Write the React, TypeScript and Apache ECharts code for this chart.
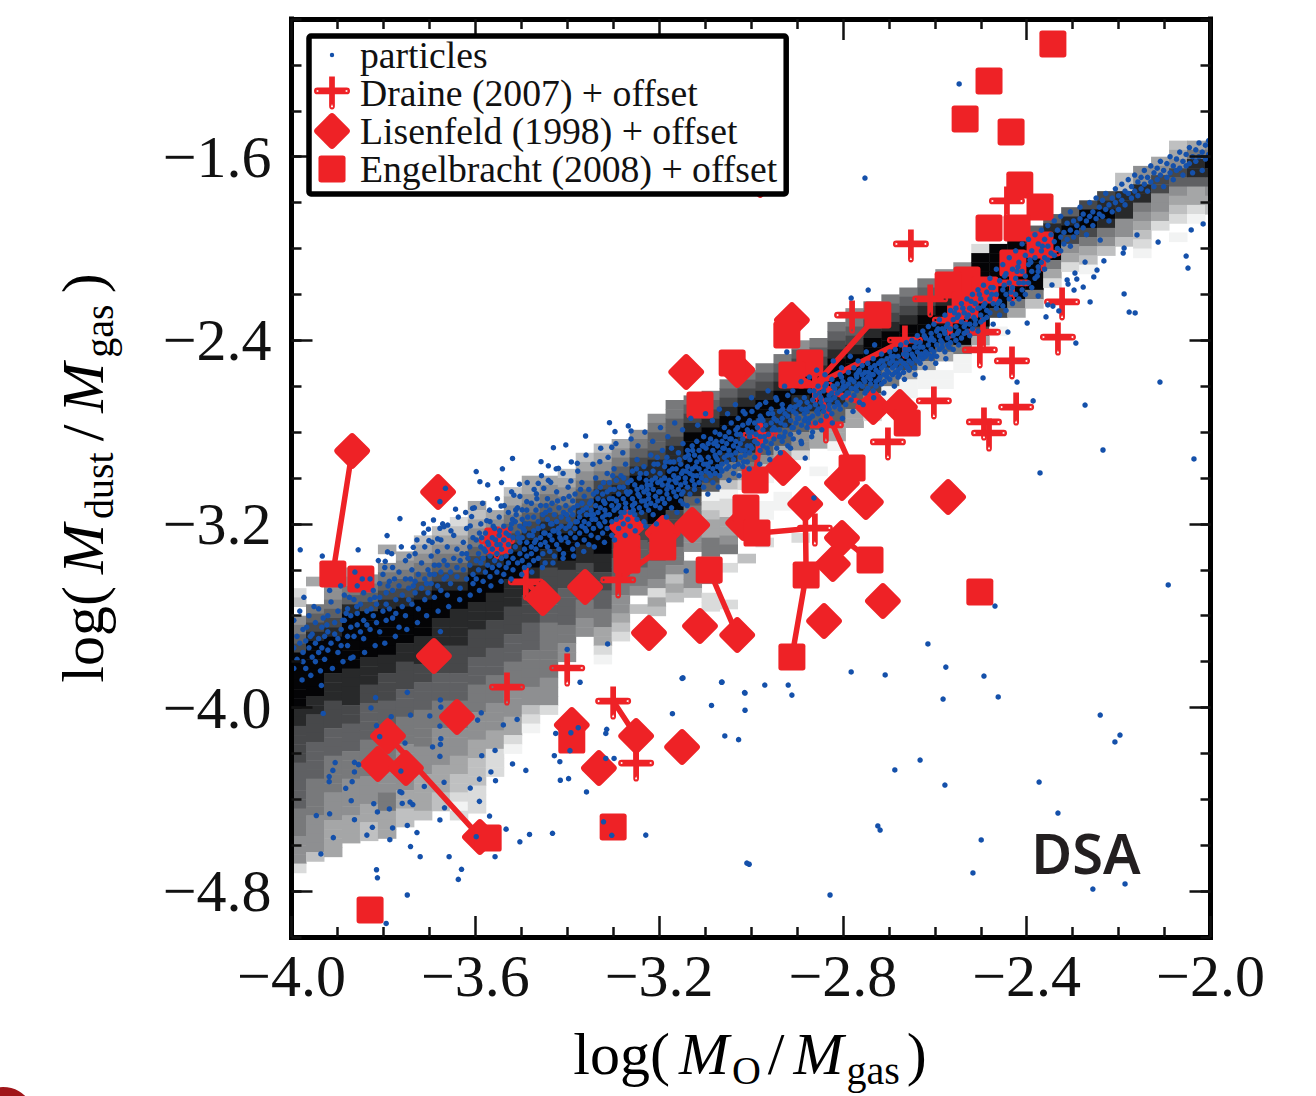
import React, { useEffect, useRef } from "react";
import * as echarts from "echarts";

const xTickLabels = [-4.0, -3.6, -3.2, -2.8, -2.4, -2.0];
const yTickLabels = [-4.8, -4.0, -3.2, -2.4, -1.6];
const legendNames = ["particles", "Draine (2007) + offset", "Lisenfeld (1998) + offset", "Engelbracht (2008) + offset"];

// 2D histogram: y of the top edge of each column, and darkness digits from top to bottom ("." = empty bin)
const heatTops = [-3.48,-3.43,-3.37,-3.39,-3.42,-3.29,-3.32,-3.25,-3.21,-3.17,-3.10,-3.14,-3.04,-2.99,-2.99,-2.96,-2.89,-2.85,-2.83,-2.79,-2.72,-2.66,-2.64,-2.62,-2.57,-2.53,-2.50,-2.46,-2.40,-2.39,-2.32,-2.26,-2.23,-2.20,-2.17,-2.13,-2.09,-2.06,-1.98,-1.98,-1.94,-1.90,-1.85,-1.82,-1.79,-1.75,-1.67,-1.64,-1.60,-1.53,-1.53,-1.53];
const heatCols = [
  "12.4567999999887777666665554441",
  "3..5678999999887776666555544442",
  "33445678999988877766655554443333",
  "345689999998888776665554444333",
  "45679999988877666655554443322",
  "3.456789999988777666555544455333",
  "345678999988777666555444443322",
  "2345678999988877666555544433332",
  "2345678999888777666555444433322",
  "123456789988887776665554443322101",
  "3234567899988877766655544433222111",
  "34567899988877766655544433111",
  "23456789998887776665554443310",
  "3345678999888777666555544210",
  "34567899887776665555554441",
  "234567899987766665544",
  "23456789998877665544",
  "234578999999887766553310",
  "3456789998877665544321",
  "456789999877666554.2",
  "4566788999997766554132",
  "5566788999997766554232",
  "56789999998655444.4442",
  "567899999760123355444.11",
  "5678999985520113345.1...1",
  "5678999886531.11....2",
  "5678998866420..00..1",
  "5678998866330..00",
  "4678998866441........1",
  "567899986633..0",
  "56789998866330",
  "4567899986633",
  "5678999997431",
  "567899985500",
  "567899997300",
  "567899996300",
  "4678999963.00",
  "467899999500",
  "19999999973",
  "99999997.0",
  "999999953",
  "689999952",
  "68999531",
  "6897431",
  "79975320",
  "7898542",
  "22888442",
  "4488543210",
  "34774431",
  "234764321.0",
  "358863310",
  "45986432",
];
const heatGrays = ["#f2f3f3","#dadbdb","#bfc0c1","#a5a6a7","#8e8f91","#78797b","#5f6063","#47484a","#28292a","#040406"];
const heatX0 = -4.0076;
const heatDx = 0.03913;
const heatDy = 0.04;

const engelbracht = [[-2.343,-1.109],[-2.482,-1.27],[-2.534,-1.436],[-2.434,-1.492],[-2.415,-1.723],[-2.371,-1.819],[-2.482,-1.911],[-2.421,-1.911],[-2.43,-2.063],[-2.371,-1.985],[-2.53,-2.137],[-2.571,-2.159],[-2.534,-2.246],[-2.491,-2.181],[-2.724,-2.29],[-2.872,-2.499],[-2.911,-2.551],[-2.922,-2.377],[-3.041,-2.499],[-3.111,-2.682],[-2.66,-2.76],[-2.78,-2.956],[-2.991,-3.009],[-3.011,-3.131],[-2.987,-3.24],[-3.091,-3.401],[-2.741,-3.357],[-2.88,-3.423],[-2.911,-3.78],[-2.502,-3.497],[-3.91,-3.418],[-3.849,-3.44],[-3.551,-3.274],[-3.27,-3.305],[-3.27,-3.357],[-3.192,-3.301],[-3.39,-4.142],[-3.3,-4.521],[-3.572,-4.569],[-3.829,-4.882]];
const lisenfeld = [[-3.868,-2.882],[-3.681,-3.061],[-3.69,-3.776],[-3.141,-2.538],[-2.911,-2.312],[-3.03,-2.529],[-3.27,-3.213],[-3.192,-3.24],[-3.128,-3.205],[-3.453,-3.523],[-3.361,-3.475],[-3.222,-3.675],[-3.111,-3.645],[-3.03,-3.684],[-3.017,-3.196],[-2.882,-3.113],[-2.713,-3.536],[-2.841,-3.623],[-2.802,-3.261],[-2.822,-3.375],[-2.571,-3.083],[-2.75,-3.105],[-2.802,-3.022],[-2.93,-2.956],[-2.734,-2.691],[-2.676,-2.691],[-3.64,-4.041],[-3.79,-4.124],[-3.812,-4.246],[-3.751,-4.264],[-3.59,-4.564],[-3.39,-4.076],[-3.25,-4.124],[-3.15,-4.172],[-3.331,-4.264],[-2.98,-1.702]];
const draine = [[-2.652,-1.98],[-2.323,-2.233],[-2.332,-2.386],[-2.432,-2.49],[-2.423,-2.691],[-2.493,-2.756],[-2.482,-2.804],[-2.602,-2.664],[-2.702,-2.843],[-2.443,-1.793],[-2.432,-2.15],[-2.61,-2.22],[-2.78,-2.29],[-2.567,-2.312],[-2.665,-2.399],[-2.502,-2.442],[-2.495,-2.364],[-2.364,-2.02],[-2.861,-3.218],[-3.49,-3.453],[-3.289,-3.444],[-3.4,-3.828],[-3.531,-3.911],[-3.3,-3.972],[-3.25,-4.242],[-3.553,-3.274],[-2.837,-2.769],[-2.98,-2.813],[-2.861,-2.595]];
const linkPaths = [
  [[-3.868,-2.882],[-3.91,-3.418]],
  [[-3.79,-4.124],[-3.59,-4.564]],
  [[-3.091,-3.401],[-3.03,-3.684]],
  [[-3.25,-4.124],[-3.3,-3.972]],
  [[-2.911,-3.78],[-2.88,-3.423],[-2.882,-3.113]],
  [[-2.987,-3.24],[-2.861,-3.218]],
  [[-2.78,-2.956],[-2.861,-2.595]],
  [[-2.98,-2.813],[-2.991,-3.009]],
  [[-2.724,-2.29],[-2.861,-2.595]],
  [[-2.665,-2.399],[-2.861,-2.595]],
  [[-2.861,-2.595],[-2.734,-2.691]],
  [[-3.289,-3.444],[-3.192,-3.301]],
  [[-3.27,-3.305],[-3.289,-3.444]],
  [[-2.802,-3.261],[-2.741,-3.357]],
  [[-3.453,-3.523],[-3.49,-3.453]],
  [[-2.911,-2.551],[-2.861,-2.595]],
  [[-3.25,-4.124],[-3.25,-4.242]],
  [[-2.911,-2.312],[-2.922,-2.377]],
  [[-2.432,-2.15],[-2.43,-2.063]],
];

// particles in the band: each row is [x, y, y, ...]
const bandLeft = [
[-3.995,-3.74,-3.62,-3.83],[-3.988,-3.69,-3.79],[-3.982,-3.58,-3.72],[-3.975,-3.66,-3.8,-3.76],[-3.969,-3.71,-3.83],[-3.962,-3.6,-3.74],[-3.955,-3.68,-3.78],[-3.948,-3.63,-3.8,-3.72],[-3.941,-3.57,-3.7,-3.76],[-3.934,-3.65,-3.74],[-3.928,-3.69,-3.79],[-3.921,-3.6,-3.67,-3.75],[-3.914,-3.54,-3.72],[-3.906,-3.63,-3.68],[-3.899,-3.58,-3.7,-3.76],[-3.892,-3.66,-3.73],[-3.885,-3.51,-3.62],[-3.878,-3.57,-3.69,-3.73],[-3.871,-3.6,-3.65],[-3.864,-3.53,-3.69],[-3.857,-3.47,-3.59,-3.64],[-3.85,-3.55,-3.67],[-3.843,-3.5,-3.62,-3.7],[-3.836,-3.58,-3.64],[-3.829,-3.44,-3.53,-3.66],[-3.822,-3.49,-3.6],[-3.815,-3.55,-3.63],[-3.808,-3.46,-3.52,-3.67],[-3.801,-3.42,-3.58],[-3.794,-3.5,-3.55,-3.62],[-3.787,-3.45,-3.57],[-3.78,-3.39,-3.49,-3.61],[-3.773,-3.53,-3.59],[-3.766,-3.41,-3.47,-3.65],[-3.759,-3.51,-3.56],[-3.752,-3.36,-3.44,-3.6],[-3.745,-3.48,-3.53],[-3.738,-3.4,-3.55],[-3.731,-3.33,-3.45,-3.5],[-3.724,-3.42,-3.57],[-3.717,-3.37,-3.48],[-3.71,-3.3,-3.44,-3.53],[-3.703,-3.4,-3.5],[-3.696,-3.34,-3.46],[-3.689,-3.38,-3.42,-3.52],[-3.682,-3.32,-3.47],[-3.675,-3.27,-3.41,-3.49],[-3.668,-3.36,-3.44],[-3.661,-3.3,-3.38,-3.51],[-3.654,-3.41,-3.46],[-3.647,-3.25,-3.35],[-3.64,-3.31,-3.43,-3.39],[-3.633,-3.36,-3.48],[-3.626,-3.28,-3.4],[-3.619,-3.22,-3.33,-3.44],[-3.612,-3.3,-3.38],[-3.605,-3.26,-3.42,-3.46],
];
const bandMiddle = [
[-3.598,-3.27,-3.36,-3.44],[-3.593,-3.33,-3.4],[-3.588,-3.2,-3.3,-3.37],[-3.583,-3.35,-3.45],[-3.578,-3.24,-3.32,-3.41],[-3.573,-3.28,-3.38],[-3.568,-3.19,-3.34,-3.43],[-3.563,-3.26,-3.31,-3.39],[-3.558,-3.22,-3.36],[-3.553,-3.29,-3.41,-3.33],[-3.548,-3.17,-3.25,-3.38],[-3.543,-3.31,-3.35],[-3.538,-3.21,-3.27,-3.42],[-3.533,-3.24,-3.34,-3.39],[-3.528,-3.15,-3.29,-3.37],[-3.523,-3.22,-3.32],[-3.518,-3.26,-3.35,-3.4],[-3.513,-3.19,-3.3],[-3.508,-3.13,-3.24,-3.37],[-3.503,-3.28,-3.33,-3.21],
[-3.498,-3.18,-3.26,-3.36],[-3.493,-3.23,-3.31,-3.39],[-3.488,-3.14,-3.28,-3.34],[-3.483,-3.2,-3.25,-3.38],[-3.478,-3.11,-3.3,-3.33],[-3.473,-3.17,-3.23,-3.36],[-3.468,-3.27,-3.31,-3.14],[-3.463,-3.19,-3.22,-3.35],[-3.458,-3.12,-3.26,-3.29],[-3.453,-3.16,-3.21,-3.33],[-3.448,-3.24,-3.28,-3.37],[-3.443,-3.09,-3.18,-3.3],[-3.438,-3.14,-3.25,-3.32],[-3.433,-3.2,-3.27,-3.11],[-3.428,-3.16,-3.23,-3.34],[-3.423,-3.06,-3.19,-3.29],[-3.418,-3.13,-3.24,-3.31],[-3.413,-3.17,-3.21,-3.27],[-3.408,-3.09,-3.15,-3.33],[-3.403,-3.22,-3.26,-3.12],
[-3.398,-3.04,-3.18,-3.28],[-3.393,-3.14,-3.2,-3.24],[-3.388,-3.1,-3.16,-3.31],[-3.383,-3.07,-3.22,-3.26],[-3.378,-3.12,-3.19,-3.29],[-3.373,-3.15,-3.17,-3.24],[-3.368,-3.02,-3.11,-3.21],[-3.363,-3.08,-3.19,-3.27],[-3.358,-3.13,-3.16,-3.23],[-3.353,-3.05,-3.2,-3.29],[-3.348,-3.1,-3.14,-3.25],[-3.343,-3.16,-3.22,-3.07],[-3.338,-3.0,-3.12,-3.18],[-3.333,-3.09,-3.15,-3.26],[-3.328,-3.04,-3.21,-3.13],[-3.323,-3.07,-3.17,-3.24],[-3.318,-3.11,-3.14,-3.19],[-3.313,-2.98,-3.06,-3.22],[-3.308,-3.09,-3.16,-3.02],[-3.303,-3.12,-3.19,-3.25],
[-3.298,-2.96,-3.05,-3.14],[-3.293,-3.01,-3.1,-3.18],[-3.288,-3.07,-3.12,-3.22],[-3.283,-2.99,-3.15,-3.17],[-3.278,-3.04,-3.09,-3.2],[-3.273,-3.11,-3.13,-2.94],[-3.268,-3.02,-3.07,-3.18],[-3.263,-3.06,-3.15,-3.21],[-3.258,-2.97,-3.09,-3.12],[-3.253,-3.03,-3.11,-3.16],[-3.248,-2.92,-3.05,-3.18],[-3.243,-3.0,-3.08,-3.13],[-3.238,-3.04,-3.1,-3.15],[-3.233,-2.95,-3.06,-3.19],[-3.228,-3.01,-3.12,-2.98],[-3.223,-3.07,-3.09,-3.14],[-3.218,-2.9,-3.03,-3.11],[-3.213,-2.97,-3.05,-3.16],[-3.208,-3.0,-3.08,-3.12],[-3.203,-2.94,-3.02,-3.1],
[-3.198,-2.98,-3.06,-3.13],[-3.193,-2.88,-3.03,-3.09],[-3.188,-2.95,-3.0,-3.11],[-3.183,-3.05,-3.07,-2.91],[-3.178,-2.97,-3.01,-3.09],[-3.173,-2.87,-3.04,-3.13],[-3.168,-2.93,-2.99,-3.06],[-3.163,-3.02,-3.08,-2.96],[-3.158,-2.89,-3.0,-3.05],[-3.153,-2.94,-3.03,-3.1],[-3.148,-2.85,-2.97,-3.06],[-3.143,-2.91,-3.0,-3.02],[-3.138,-2.95,-3.04,-2.88],[-3.133,-2.98,-3.07,-2.92],[-3.128,-2.86,-2.96,-3.01],[-3.123,-2.9,-3.03,-3.05],[-3.118,-2.93,-2.99,-2.84],[-3.113,-2.88,-2.96,-3.02],[-3.108,-2.92,-2.98,-3.0],[-3.103,-2.82,-2.94,-3.04],
[-3.098,-2.87,-2.97,-3.01],[-3.093,-2.91,-2.95,-2.85],[-3.088,-2.83,-2.93,-2.99],[-3.083,-2.88,-2.96,-3.02],[-3.078,-2.8,-2.9,-2.98],[-3.073,-2.86,-2.92,-2.95],[-3.068,-2.81,-2.89,-2.99],[-3.063,-2.84,-2.94,-2.97],[-3.058,-2.78,-2.87,-2.91],[-3.053,-2.85,-2.93,-2.96],[-3.048,-2.8,-2.88,-2.95],[-3.043,-2.76,-2.83,-2.9],[-3.038,-2.86,-2.92,-2.98],[-3.033,-2.79,-2.84,-2.89],[-3.028,-2.74,-2.87,-2.94],[-3.023,-2.81,-2.85,-2.91],[-3.018,-2.77,-2.83,-2.95],[-3.013,-2.72,-2.88,-2.9],[-3.008,-2.79,-2.86,-2.93],[-3.003,-2.75,-2.82,-2.89],
];
const bandRight = [
[-2.998,-2.71,-2.8,-2.87],[-2.992,-2.76,-2.84,-2.91],[-2.986,-2.69,-2.78,-2.85],[-2.98,-2.73,-2.82,-2.88],[-2.974,-2.75,-2.79,-2.86],[-2.968,-2.67,-2.77,-2.84],[-2.962,-2.72,-2.81,-2.89],[-2.956,-2.7,-2.76,-2.85],[-2.95,-2.74,-2.78,-2.83],[-2.944,-2.66,-2.75,-2.87],[-2.938,-2.71,-2.79,-2.82],[-2.932,-2.68,-2.74,-2.84],[-2.926,-2.72,-2.77,-2.8],[-2.92,-2.64,-2.73,-2.86],[-2.914,-2.69,-2.75,-2.81],[-2.908,-2.71,-2.78,-2.83],[-2.902,-2.66,-2.72,-2.76],[-2.896,-2.68,-2.74,-2.8],[-2.89,-2.7,-2.77,-2.85],[-2.884,-2.65,-2.72,-2.75],
[-2.878,-2.67,-2.71,-2.78],[-2.872,-2.62,-2.69,-2.74],[-2.866,-2.66,-2.73,-2.8],[-2.86,-2.64,-2.68,-2.76],[-2.854,-2.6,-2.7,-2.72],[-2.848,-2.65,-2.67,-2.75],[-2.842,-2.62,-2.69,-2.71],[-2.836,-2.59,-2.66,-2.73],[-2.83,-2.64,-2.68,-2.7],[-2.824,-2.57,-2.63,-2.72],[-2.818,-2.61,-2.65,-2.69],[-2.812,-2.59,-2.63,-2.67],[-2.806,-2.55,-2.62,-2.7],[-2.8,-2.58,-2.61,-2.65],[-2.794,-2.6,-2.64,-2.68],[-2.788,-2.54,-2.59,-2.63],[-2.782,-2.57,-2.61,-2.66],[-2.776,-2.52,-2.58,-2.64],[-2.77,-2.56,-2.6,-2.62],[-2.764,-2.53,-2.59,-2.67],
[-2.758,-2.51,-2.55,-2.6],[-2.752,-2.54,-2.58,-2.63],[-2.746,-2.5,-2.56,-2.61],[-2.74,-2.52,-2.57,-2.59],[-2.734,-2.48,-2.55,-2.62],[-2.728,-2.53,-2.58,-2.6],[-2.722,-2.5,-2.54,-2.57],[-2.716,-2.46,-2.52,-2.59],[-2.71,-2.51,-2.55,-2.58],[-2.704,-2.48,-2.53,-2.56],[-2.698,-2.45,-2.5,-2.57],[-2.692,-2.49,-2.52,-2.55],[-2.686,-2.44,-2.51,-2.54],[-2.68,-2.47,-2.53,-2.56],[-2.674,-2.42,-2.49,-2.52],[-2.668,-2.46,-2.5,-2.54],[-2.662,-2.41,-2.47,-2.51],[-2.656,-2.44,-2.49,-2.53],[-2.65,-2.4,-2.46,-2.5],[-2.644,-2.43,-2.48,-2.52],
[-2.638,-2.38,-2.45,-2.49],[-2.632,-2.41,-2.47,-2.5],[-2.626,-2.36,-2.43,-2.48],[-2.62,-2.39,-2.45,-2.47],[-2.614,-2.34,-2.42,-2.46],[-2.608,-2.37,-2.44,-2.48],[-2.602,-2.33,-2.4,-2.45],[-2.596,-2.36,-2.42,-2.47],[-2.59,-2.31,-2.38,-2.44],[-2.584,-2.35,-2.41,-2.43],[-2.578,-2.29,-2.37,-2.45],[-2.572,-2.33,-2.39,-2.42],[-2.566,-2.27,-2.35,-2.41],[-2.56,-2.31,-2.38,-2.44],[-2.554,-2.26,-2.34,-2.4],[-2.548,-2.29,-2.36,-2.42],[-2.542,-2.24,-2.32,-2.39],[-2.536,-2.28,-2.34,-2.37],[-2.53,-2.22,-2.3,-2.36],[-2.524,-2.26,-2.33,-2.38],
[-2.518,-2.2,-2.27,-2.35],[-2.512,-2.24,-2.31,-2.33],[-2.506,-2.18,-2.26,-2.36],[-2.5,-2.22,-2.29,-2.32],
];
const bandTop = [
[-2.494,-2.16,-2.25,-2.31],[-2.487,-2.19,-2.27,-2.3],[-2.48,-2.13,-2.22,-2.28],[-2.473,-2.17,-2.24,-2.33],[-2.466,-2.09,-2.2,-2.26],[-2.459,-2.14,-2.23,-2.29],[-2.452,-2.07,-2.18,-2.25],[-2.445,-2.11,-2.2,-2.27],[-2.438,-2.04,-2.15,-2.22],[-2.431,-2.09,-2.17,-2.24],[-2.424,-2.01,-2.13,-2.2],[-2.417,-2.06,-2.15,-2.22],[-2.41,-1.98,-2.1,-2.18],[-2.403,-2.03,-2.12,-2.2],[-2.396,-1.96,-2.07,-2.15],[-2.389,-2.01,-2.1,-2.17],[-2.382,-1.94,-2.04,-2.13],[-2.375,-1.98,-2.08,-2.1],[-2.368,-1.92,-2.01,-2.06],[-2.361,-1.96,-2.04,-2.09],[-2.354,-1.9,-1.99,-2.05],[-2.347,-1.94,-2.02],[-2.34,-1.97,-2.03,-1.88],[-2.333,-1.92,-2.0],[-2.326,-1.86,-1.95,-2.01],[-2.319,-1.93,-1.98],[-2.312,-1.89,-1.96],[-2.305,-1.84,-1.92,-1.99],[-2.298,-1.88,-1.95],[-2.291,-1.9,-1.93],[-2.284,-1.82,-1.87],[-2.277,-1.85,-1.91],[-2.27,-1.88,-1.94],[-2.263,-1.8,-1.86],[-2.256,-1.84,-1.9],[-2.249,-1.78,-1.87],[-2.242,-1.82,-1.85],[-2.235,-1.86,-1.79],[-2.228,-1.76,-1.83],[-2.221,-1.81,-1.88],[-2.214,-1.78,-1.84],[-2.207,-1.74,-1.8],[-2.2,-1.77,-1.83],[-2.193,-1.72,-1.79],[-2.186,-1.75,-1.81],[-2.179,-1.7,-1.76],[-2.172,-1.73,-1.78],[-2.165,-1.68,-1.75],[-2.158,-1.71,-1.77],[-2.151,-1.74,-1.69],[-2.144,-1.66,-1.72],[-2.137,-1.69,-1.75],[-2.13,-1.64,-1.71],[-2.123,-1.67,-1.73],[-2.116,-1.7,-1.65],[-2.109,-1.62,-1.68],[-2.102,-1.66,-1.73],[-2.095,-1.63,-1.69],[-2.088,-1.6,-1.67],[-2.081,-1.64,-1.7],[-2.074,-1.61,-1.66],[-2.067,-1.58,-1.65],[-2.06,-1.62,-1.68],[-2.053,-1.59,-1.64],[-2.046,-1.56,-1.63],[-2.039,-1.6,-1.67],[-2.032,-1.57,-1.62],[-2.025,-1.54,-1.6],[-2.018,-1.58,-1.66],[-2.011,-1.55,-1.61],[-2.004,-1.53,-1.59],
];
// looser particles that widen the band, on both of its sides
const bandLoose = [[-3.973,-3.52],[-3.951,-3.56],[-3.917,-3.49],[-3.893,-3.47],[-3.874,-3.52],[-3.862,-3.41],[-3.846,-3.44],[-3.811,-3.36],[-3.797,-3.39],[-3.782,-3.33],[-3.761,-3.3],[-3.744,-3.34],[-3.727,-3.27],[-3.712,-3.24],[-3.694,-3.28],[-3.671,-3.2],[-3.653,-3.23],[-3.637,-3.17],[-3.621,-3.15],[-3.602,-3.13],[-3.584,-3.11],[-3.569,-3.14],[-3.552,-3.09],[-3.537,-3.12],[-3.521,-3.06],[-3.503,-3.08],[-3.487,-3.02],[-3.472,-3.05],[-3.456,-2.99],[-3.441,-3.01],[-3.424,-2.96],[-3.409,-2.98],[-3.391,-2.93],[-3.377,-2.97],[-3.359,-2.9],[-3.344,-2.94],[-3.327,-2.87],[-3.311,-2.91],[-3.294,-2.85],[-3.279,-2.89],[-3.261,-2.83],[-3.246,-2.86],[-3.231,-2.8],[-3.214,-2.84],[-3.197,-2.78],[-3.181,-2.82],[-3.166,-2.76],[-3.149,-2.79],[-3.131,-2.74],[-3.116,-2.77],[-3.099,-2.72],[-3.084,-2.75],[-3.069,-2.7],[-3.051,-2.72],[-3.034,-2.68],[-3.017,-2.71],[-2.999,-2.65],[-2.981,-2.68],[-2.963,-2.62],[-2.946,-2.65],[-2.927,-2.6],[-2.909,-2.62],[-2.891,-2.58],[-2.873,-2.56],[-2.857,-2.53],[-2.839,-2.55],[-2.821,-2.49],[-2.803,-2.52],[-2.784,-2.47],[-2.767,-2.49],[-2.749,-2.45],[-2.731,-2.42],
[-3.977,-3.88],[-3.958,-3.86],[-3.937,-3.84],[-3.911,-3.83],[-3.888,-3.8],[-3.866,-3.78],[-3.841,-3.76],[-3.818,-3.73],[-3.797,-3.72],[-3.774,-3.69],[-3.749,-3.66],[-3.726,-3.63],[-3.706,-3.6],[-3.681,-3.58],[-3.658,-3.56],[-3.634,-3.53],[-3.611,-3.51],[-3.591,-3.49],[-3.566,-3.47],[-3.544,-3.45],[-3.522,-3.44],[-3.499,-3.42],[-3.477,-3.41],[-3.454,-3.39],[-3.431,-3.37],[-3.409,-3.35],[-3.386,-3.34],[-3.364,-3.32],[-3.341,-3.3],[-3.319,-3.28],[-3.297,-3.27],[-3.274,-3.25],[-3.252,-3.23],[-3.229,-3.21],[-3.206,-3.2],[-3.184,-3.17],[-3.161,-3.15],[-3.139,-3.12],[-3.117,-3.1],[-3.094,-3.07],[-3.071,-3.04],[-3.048,-3.01],[-3.026,-2.99],[-3.004,-2.96],[-2.981,-2.94],[-2.959,-2.92],[-2.936,-2.89],[-2.914,-2.87],[-2.891,-2.84],[-2.868,-2.82],[-2.846,-2.79],[-2.823,-2.76],[-2.801,-2.74],[-2.778,-2.71],[-2.756,-2.68],[-2.733,-2.65],[-2.711,-2.63],[-2.688,-2.6],[-2.666,-2.57],[-2.643,-2.55],[-2.621,-2.52],[-2.598,-2.5],[-2.576,-2.48],
[-3.571,-3.29],[-3.547,-3.23],[-3.519,-3.18],[-3.496,-3.22],[-3.466,-3.09],[-3.447,-3.15],[-3.419,-3.22],[-3.396,-3.08],[-3.371,-3.05],[-3.349,-3.16],[-3.321,-3.02],[-3.301,-2.99],[-3.277,-3.0],[-3.249,-2.96],[-3.226,-3.03],[-3.204,-2.91],[-3.176,-2.93],[-3.151,-2.98],[-3.127,-2.88],[-3.104,-2.86],[-3.076,-2.84],[-3.056,-2.82],[-3.029,-2.78],[-3.006,-2.76],[-2.977,-2.74],[-2.954,-2.79],[-2.931,-2.7],[-2.904,-2.69],[-2.881,-2.74],[-2.851,-2.63],[-2.826,-2.66],[-2.799,-2.6],[-2.771,-2.55],[-2.744,-2.54],[-2.717,-2.49],[-2.689,-2.47],[-2.661,-2.46],[-2.633,-2.43],[-2.607,-2.39],[-2.579,-2.36],[-2.551,-2.3],[-2.527,-2.29],[-2.503,-2.26],[-2.476,-2.2],[-2.449,-2.16],[-2.421,-2.1],[-2.393,-2.05],[-2.366,-1.99]];
// extra particles inside the band core, clumped unevenly as in the picture
const bandCore = [[-3.967,-3.65],[-3.959,-3.69],[-3.931,-3.61],[-3.923,-3.64],[-3.889,-3.62],[-3.881,-3.59],[-3.858,-3.56],[-3.827,-3.57],[-3.819,-3.52],[-3.79,-3.47],[-3.776,-3.44],[-3.741,-3.44],[-3.735,-3.47],[-3.706,-3.46],[-3.699,-3.42],[-3.679,-3.38],[-3.663,-3.43],[-3.629,-3.33],[-3.616,-3.35],
[-3.591,-3.24],[-3.586,-3.26],[-3.581,-3.31],[-3.561,-3.21],[-3.556,-3.27],[-3.546,-3.29],[-3.527,-3.25],[-3.521,-3.2],[-3.511,-3.16],[-3.506,-3.26],[-3.491,-3.2],[-3.486,-3.17],[-3.476,-3.25],[-3.471,-3.28],[-3.451,-3.24],[-3.446,-3.12],[-3.436,-3.2],[-3.431,-3.23],[-3.421,-3.1],[-3.416,-3.26],[-3.401,-3.16],[-3.396,-3.21],[-3.386,-3.13],[-3.381,-3.19],[-3.366,-3.14],[-3.361,-3.22],[-3.351,-3.11],[-3.346,-3.18],[-3.336,-3.06],[-3.331,-3.2],[-3.321,-3.1],[-3.316,-3.16],[-3.306,-3.05],[-3.301,-3.09],[-3.291,-3.13],[-3.286,-3.04],[-3.276,-3.15],[-3.271,-3.06],[-3.261,-3.01],[-3.256,-3.14],[-3.246,-3.07],[-3.241,-2.98],[-3.231,-3.1],[-3.226,-3.05],[-3.216,-3.01],[-3.211,-2.94],[-3.201,-3.06],[-3.196,-3.01],[-3.186,-2.93],[-3.181,-3.03],[-3.171,-2.96],[-3.166,-3.01],[-3.156,-2.92],[-3.151,-3.07],[-3.141,-2.97],[-3.136,-2.9],[-3.126,-2.99],[-3.121,-2.95],[-3.111,-2.91],[-3.106,-2.86],[-3.096,-2.94],[-3.091,-2.98],[-3.081,-2.85],[-3.076,-2.91],[-3.066,-2.96],[-3.061,-2.87],[-3.051,-2.9],[-3.046,-2.83],[-3.036,-2.95],[-3.031,-2.81],[-3.021,-2.88],[-3.016,-2.93],[-3.006,-2.8],[-3.001,-2.86],
[-2.989,-2.81],[-2.983,-2.75],[-2.971,-2.82],[-2.965,-2.87],[-2.953,-2.72],[-2.947,-2.79],[-2.935,-2.76],[-2.929,-2.82],[-2.917,-2.7],[-2.911,-2.78],[-2.899,-2.74],[-2.893,-2.67],[-2.881,-2.7],[-2.875,-2.76],[-2.863,-2.62],[-2.857,-2.71],[-2.845,-2.69],[-2.839,-2.6],[-2.827,-2.66],[-2.821,-2.6],[-2.809,-2.68],[-2.803,-2.56],[-2.791,-2.63],[-2.785,-2.57],[-2.773,-2.61],[-2.767,-2.54],[-2.755,-2.57],[-2.749,-2.62],[-2.737,-2.55],[-2.731,-2.51],[-2.719,-2.56],[-2.713,-2.49],[-2.701,-2.54],[-2.695,-2.47],[-2.683,-2.5],[-2.677,-2.55],[-2.665,-2.44],[-2.659,-2.52],[-2.647,-2.47],[-2.641,-2.41],[-2.629,-2.46],[-2.623,-2.38],[-2.611,-2.4],[-2.605,-2.47],[-2.593,-2.35],[-2.587,-2.4],[-2.575,-2.34],[-2.569,-2.43],[-2.557,-2.28],[-2.551,-2.37],[-2.539,-2.26],[-2.533,-2.33],[-2.521,-2.23],[-2.515,-2.3],[-2.503,-2.2],[-2.491,-2.24],[-2.478,-2.17],[-2.463,-2.24],[-2.448,-2.12],[-2.434,-2.19],[-2.419,-2.08],[-2.407,-2.15],[-2.391,-2.06],[-2.377,-2.12]];
// isolated particles away from the band
const outlierParticles = [[-3.935,-3.904],[-3.817,-3.957],[-3.748,-3.934],[-3.676,-3.967],[-3.675,-3.998],[-3.827,-4.002],[-3.931,-4.026],[-3.783,-4.04],[-3.741,-4.033],[-3.699,-4.037],[-3.587,-4.023],[-3.595,-4.055],[-3.509,-4.052],[-3.539,-4.076],[-3.677,-4.081],[-3.815,-4.079],[-3.808,-4.127],[-3.675,-4.136],[-3.676,-4.161],[-3.753,-4.155],[-3.693,-4.172],[-3.677,-4.213],[-3.586,-4.21],[-3.557,-4.187],[-3.425,-4.113],[-3.392,-4.11],[-3.376,-4.088],[-3.314,-4.095],[-3.316,-4.113],[-3.394,-4.188],[-3.428,-4.21],[-3.416,-4.236],[-3.519,-4.246],[-3.49,-4.274],[-3.566,-4.281],[-3.556,-4.319],[-3.316,-4.222],[-3.298,-4.222],[-3.415,-4.317],[-3.397,-4.31],[-3.358,-4.368],[-3.591,-4.312],[-3.611,-4.351],[-3.668,-4.326],[-3.711,-4.344],[-3.762,-4.277],[-3.76,-4.371],[-3.764,-4.367],[-3.863,-4.239],[-3.854,-4.249],[-3.905,-4.24],[-3.91,-4.274],[-3.918,-4.301],[-3.918,-4.323],[-3.863,-4.281],[-3.868,-4.323],[-3.882,-4.352],[-3.87,-4.406],[-3.821,-4.419],[-3.759,-4.418],[-3.742,-4.412],[-3.736,-4.423],[-3.787,-4.442],[-3.813,-4.455],[-3.917,-4.463],[-3.946,-4.471],[-3.863,-4.489],[-3.667,-4.437],[-3.677,-4.49],[-3.591,-4.409],[-3.569,-4.473],[-3.533,-4.53],[-3.748,-4.514],[-3.78,-4.525],[-3.824,-4.522],[-3.836,-4.556],[-3.909,-4.567],[-3.786,-4.576],[-3.727,-4.545],[-3.741,-4.606],[-3.936,-4.638],[-3.72,-4.65],[-3.657,-4.65],[-3.557,-4.65],[-3.503,-4.585],[-3.482,-4.553],[-3.432,-4.548],[-3.229,-4.556],[-3.321,-4.498],[-3.303,-4.557],[-3.63,-4.705],[-3.637,-4.749],[-3.815,-4.707],[-3.813,-4.742],[-3.748,-4.817],[-3.794,-4.941],[-3.15,-3.873],[-3.064,-3.89],[-3.014,-3.935],[-3.086,-3.991],[-3.013,-4.012],[-3.171,-4.027],[-3.057,-4.124],[-3.027,-4.14],[-3.004,-4.683],[-3.372,-3.89],[-3.4,-3.747],[-3.312,-3.723],[-3.598,-4.563],
[-3.981,-3.313],[-3.933,-3.34],[-3.855,-3.313],[-3.792,-3.251],[-3.764,-3.177],[-3.791,-3.322],[-3.796,-3.363],[-3.735,-3.302],[-3.713,-3.199],[-3.702,-3.223],[-3.691,-3.183],[-3.677,-3.219],[-3.668,-3.212],[-3.66,-3.205],[-3.701,-3.273],[-3.682,-3.265],[-3.665,-3.045],[-3.677,-3.103],[-3.643,-3.136],[-3.606,-3.132],[-3.608,-3.168],[-3.611,-3.209],[-3.575,-3.186],[-3.544,-3.122],[-3.543,-3.02],[-3.573,-3.03],[-3.59,-3.016],[-3.598,-2.972],[-3.541,-2.96],[-3.519,-2.915],[-3.504,-3.027],[-3.457,-2.929],[-3.441,-2.947],[-3.43,-2.868],[-3.403,-2.856],[-3.36,-2.817],[-3.419,-2.958],[-3.378,-2.936],[-3.296,-2.798],[-3.308,-2.759],[-3.267,-2.773],[-3.261,-2.795],[-3.303,-2.866],[-3.329,-2.929],[-3.463,-3.023],[-3.436,-3.019],[-3.516,-3.075],[-3.512,-3.139],[-3.498,-3.139],[-3.488,-3.103],[-3.467,-3.069],[-3.451,-3.045],[-3.392,-3.013],[-3.676,-3.669],[-3.871,-3.785],
[-2.469,-3.558],[-2.615,-3.723],[-2.782,-3.845],[-2.708,-3.858],[-2.576,-3.824],[-2.493,-3.863],[-2.462,-3.954],[-2.582,-3.963],[-3.148,-3.871],[-3.063,-3.889],[-3.013,-3.937],[-2.97,-3.902],[-2.919,-3.902],[-2.911,-3.946],[-2.882,-2.913],[-2.863,-3.087],[-3.141,-3.405],[-3.148,-3.113],[-2.373,-4.325],[-2.332,-4.46],[-2.499,-4.577],[-2.517,-4.721],[-2.256,-4.791],[-2.186,-4.769],[-3.009,-4.678],[-2.828,-4.817],[-2.719,-4.534],[-2.724,-4.516],[-2.687,-4.272],[-2.632,-4.229],[-2.578,-4.338],[-2.24,-4.033],[-2.197,-4.12],[-2.208,-4.15],[-2.092,-3.466],[-2.036,-2.917],[-2.234,-2.878],[-2.273,-2.682],[-2.11,-2.582],[-2.371,-2.978],[-2.049,-2.085],[-2.053,-2.033],[-2.164,-2.281],[-2.177,-2.277],[-2.188,-2.198],[-2.262,-2.233],[-2.293,-2.412],[-2.232,-2.054],[-2.273,-2.059],[-2.254,-2.124],[-2.247,-2.094],[-2.295,-2.107],[-2.312,-2.137],[-2.31,-2.155],[-2.291,-2.133],[-2.277,-2.168],[-2.297,-2.181],[-2.345,-2.159],[-2.375,-2.207],[-2.354,-2.246],[-2.343,-2.251],[-2.33,-2.272],[-2.358,-2.298],[-2.399,-2.325],[-2.441,-2.364],[-2.495,-2.564],[-2.421,-2.582],[-2.386,-2.664],[-2.745,-2.181],[-2.782,-2.216],[-2.752,-1.693],[-2.922,-2.451],[-2.24,-1.963],[-2.16,-1.941],[-2.114,-1.972],[-2.19,-2.02],[-2.188,-1.998],[-2.042,-1.919],[-2.016,-1.893],[-2.547,-1.283]];

const RED = "#ee2226";
const BLUE = "#1450aa";
const SERIF = "'Liberation Serif', serif";

const squarePath = "M10 0H90Q100 0 100 10V90Q100 100 90 100H10Q0 100 0 90V10Q0 0 10 0Z";
const diamondPath = "M43 4Q50 -3 57 4L96 43Q103 50 96 57L57 96Q50 103 43 96L4 57Q-3 50 4 43Z";
const plusPath = "M45 0H62V33H97Q107 33 107 43Q107 53 97 53H62V88Q62 98 53.5 98Q45 98 45 88V53H10Q0 53 0 43Q0 33 10 33H45Z" +
  "M8 39L8 47L15 43ZM99 39L92 43L99 47ZM53.5 82L50 91L57 91Z";
const dotIcon = "path://M0 0M36 36M15.8 18A2.2 2.2 0 1 0 20.2 18A2.2 2.2 0 1 0 15.8 18Z";
const squareIcon = "path://M-16.5 -16.5M116.5 116.5" + squarePath;
const plusIcon = "path://M0 -4.5M107 102.5" + plusPath;

const fmt = (v: number) => v.toFixed(1).replace("-", "\u2212");
const flatten = (rows: number[][]) => rows.flatMap((r) => r.slice(1).map((y) => [r[0], y]));

export default function App() {
  const ref = useRef<HTMLDivElement>(null);
  useEffect(() => {
    document.body.style.margin = "0";
    const chart = echarts.init(ref.current!, undefined, { renderer: "svg" });

    const heatCells: number[][] = [];
    heatCols.forEach((col, i) => {
      const x = heatX0 + i * heatDx;
      col.split("").forEach((c, j) => {
        if (c !== ".") heatCells.push([x, heatTops[i] - j * heatDy, Number(c)]);
      });
    });
    const particles = [...flatten(bandLeft), ...flatten(bandMiddle), ...flatten(bandRight), ...flatten(bandTop), ...bandLoose, ...bandCore, ...outlierParticles];

    const line = { color: "#000", width: 5, cap: "square" };
    const tick = { color: "#111", width: 2.5 };
    const xBase = { type: "value", min: -4, max: -2, interval: 0.4, z: 6, axisLine: { show: true, onZero: false, lineStyle: line }, splitLine: { show: false }, axisTick: { show: true, inside: true, length: 21, lineStyle: tick }, minorTick: { show: true, splitNumber: 4, length: 10, lineStyle: tick }, minorSplitLine: { show: false } };
    const yMajor = { type: "value", min: -5, max: -1, z: 6, splitLine: { show: false }, axisLine: { show: true, onZero: false, lineStyle: line }, axisTick: { show: true, inside: true, length: 21, lineStyle: tick, customValues: yTickLabels } };
    const yMinor = { type: "value", min: -5, max: -1, interval: 0.2, z: 6, splitLine: { show: false }, axisLine: { show: false }, axisLabel: { show: false }, axisTick: { show: true, inside: true, length: 10, lineStyle: tick } };
    const richSet = {
      a: { fontFamily: SERIF, fontSize: 60, lineHeight: 72, color: "#111", padding: [0, 4, 0, 4] },
      b: { fontFamily: SERIF, fontSize: 60, fontStyle: "italic", lineHeight: 72, color: "#111", padding: [0, 3, 0, 5] },
      c: { fontFamily: SERIF, fontSize: 40, lineHeight: 40, verticalAlign: "bottom", color: "#111", padding: [0, 3, 0, 0] },
    };
    const richWide = {
      a: { ...richSet.a, padding: [0, 6, 0, 6] },
      b: { ...richSet.b, padding: [0, 5, 0, 6] },
      c: { ...richSet.c, padding: [0, 5, 0, 0] },
    };

    chart.setOption({
      animation: false,
      backgroundColor: "#fff",
      grid: { left: 291.5, top: 19, width: 919, height: 918, containLabel: false },
      xAxis: [
        { ...xBase, position: "bottom", axisLabel: { show: true, margin: 9, color: "#111", fontFamily: SERIF, fontSize: 60, showMinLabel: true, showMaxLabel: true, formatter: (v: number) => fmt(v), customValues: xTickLabels } },
        { ...xBase, position: "top", axisLabel: { show: false } },
      ],
      yAxis: [
        { ...yMajor, position: "left", axisLabel: { show: true, margin: 20, color: "#111", fontFamily: SERIF, fontSize: 60, padding: [0, 0, 8, 0], formatter: (v: number) => fmt(v), customValues: yTickLabels } },
        { ...yMinor, position: "left" },
        { ...yMajor, position: "right", axisLabel: { show: false } },
        { ...yMinor, position: "right" },
      ],
      legend: {
        show: true, z: 10, left: 309, top: 36, orient: "vertical", selectedMode: false,
        padding: [0, 9, 6, 5], itemGap: 0, itemWidth: 46, itemHeight: 36,
        backgroundColor: "#fff", borderColor: "#000", borderWidth: 5.5, borderRadius: 2,
        textStyle: { fontFamily: SERIF, fontSize: 37.7, lineHeight: 36, color: "#111" },
        data: [
          { name: legendNames[0], icon: dotIcon },
          { name: legendNames[1], icon: plusIcon },
          { name: legendNames[2], icon: "path://" + diamondPath },
          { name: legendNames[3], icon: squareIcon },
        ],
      },
      series: [
        {
          type: "custom", name: "histogram", z: 1, clip: true, silent: true,
          data: heatCells,
          encode: { x: 0, y: 1 },
          renderItem: (_p: any, api: any) => {
            const x = api.value(0), y = api.value(1);
            const a = api.coord([x, y]);
            const b = api.coord([x + heatDx, y - heatDy]);
            return { type: "rect", shape: { x: a[0], y: a[1], width: b[0] - a[0] + 0.5, height: b[1] - a[1] + 0.5 }, style: { fill: heatGrays[api.value(2)], stroke: null } };
          },
        },
        ...linkPaths.map((pts, i) => ({
          type: "line", name: "link" + i, z: 2, data: pts, symbol: "none", silent: true,
          lineStyle: { color: RED, width: 5.5, cap: "round", opacity: 1 },
        })),
        { type: "scatter", name: legendNames[1], z: 2, data: draine, symbol: "path://" + plusPath, symbolSize: [36, 33], symbolOffset: [0, 2], itemStyle: { color: RED, opacity: 1 }, silent: true },
        { type: "scatter", name: legendNames[2], z: 2, data: lisenfeld, symbol: "path://" + diamondPath, symbolSize: 36, itemStyle: { color: RED, opacity: 1 }, silent: true },
        { type: "scatter", name: legendNames[3], z: 2, data: engelbracht, symbol: "path://" + squarePath, symbolSize: 27, itemStyle: { color: RED, opacity: 1 }, silent: true },
        { type: "scatter", name: legendNames[0], z: 3, data: particles, symbol: "circle", symbolSize: 5.5, itemStyle: { color: BLUE, opacity: 1 }, silent: true },
      ],
      graphic: [
        { type: "text", z: 20, x: 1086, y: 852, style: { text: "DSA", fontFamily: "'Noto Sans'", fontSize: 56, fontWeight: 600, fill: "#231f20", align: "center", verticalAlign: "middle" } },
        { type: "text", z: 20, x: 750, y: 1054, style: { text: "{a|log(}{b|M}{c|O}{a|/}{b|M}{c|gas}{a|)}", align: "center", verticalAlign: "middle", rich: richSet } },
        { type: "text", z: 20, x: 83, y: 478, rotation: Math.PI / 2, style: { text: "{a|log(}{b|M}{c|dust}{a|/}{b|M}{c|gas}{a|)}", align: "center", verticalAlign: "middle", rich: richWide } },
        { type: "circle", z: 20, shape: { cx: 3, cy: 1119, r: 32 }, style: { fill: "#a01519" } },
      ],
    });
    return () => chart.dispose();
  }, []);
  return <div ref={ref} style={{ position: "absolute", left: 0, top: 0, width: 1316, height: 1096 }} />;
}
